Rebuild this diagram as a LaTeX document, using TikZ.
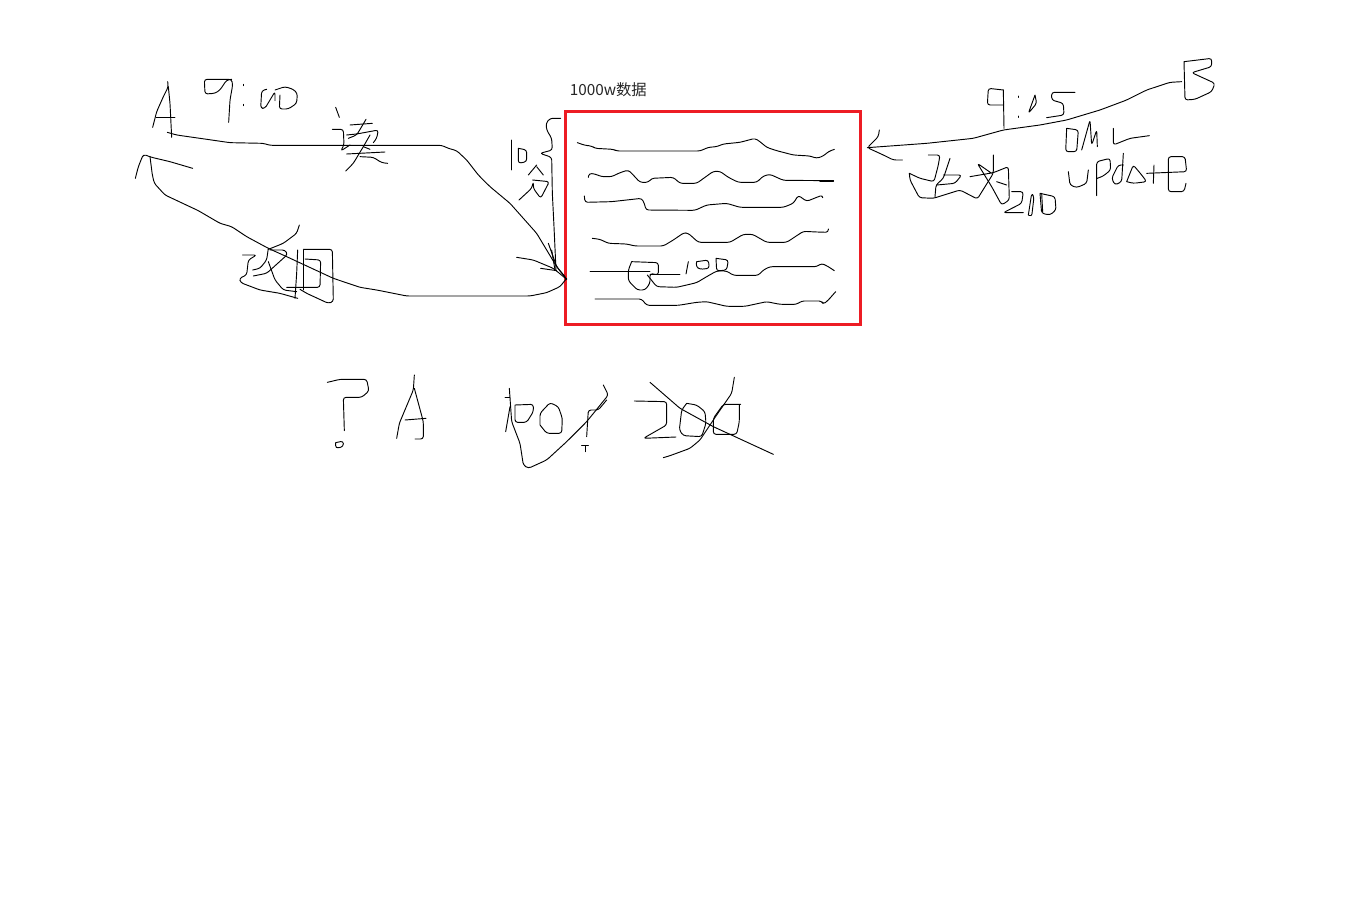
\documentclass[tikz,border=0pt]{standalone}
\usepackage{fontspec}
\setmainfont{Noto Sans CJK SC}
\usepackage{xcolor}
\usetikzlibrary{positioning}
\definecolor{cBox}{RGB}{237,28,36}
\tikzset{
  ink/.style={draw=black, line width=0.7pt, line join=round, line cap=round, rounded corners=2pt},
  store/.style={draw=cBox, line width=2.25pt, minimum width=221.25pt, minimum height=159.75pt, inner sep=0pt},
  lbl/.style={font=\fontsize{11.5}{14}\selectfont, text=black!85, inner sep=0pt},
  areaA/.style={shift={(120,60)}, x=0.25pt, y=-0.25pt},
  areaBox/.style={shift={(560,70)}, x=0.25pt, y=-0.25pt},
  areaB/.style={shift={(860,50)}, x=0.25pt, y=-0.25pt},
  areaTop/.style={shift={(320,365)}, x=0.25pt, y=-0.25pt},
}

\begin{document}
\begin{tikzpicture}[x=0.75pt, y=-0.75pt]
  \useasboundingbox (0,0) rectangle (1368,924);
  \node[store] (table) at (713,218) {};
  \node[lbl, anchor=west] (rows) at (569.5,90) {1000w数据};

  % ---- left: A reads, then writes back ----
  \begin{scope}[areaA]
    \draw[ink] (143,65) -- (145,80) -- (130,110) -- (110,155) -- (98,202);
    \draw[ink] (145,80) -- (150,130) -- (155,232);
    \draw[ink] (108,172) -- (165,172);
    % 9:00
    \draw[ink] (335,58) -- (320,60) -- (300,90) -- (285,100) -- (255,102) -- (253,58) -- (335,58) -- (338,75) -- (330,120) -- (326,187);
    \draw[ink] (370,73) -- (370,77);
    \draw[ink] (370,133) -- (370,137);
    \draw[ink] (440,88) -- (425,92) -- (422,145) -- (435,145) -- (465,95) -- (465,122);
    \draw[ink] (465,90) -- (495,80) -- (520,88) -- (532,100) -- (530,130) -- (505,147) -- (478,147) -- (480,105);
    % read
    \draw[ink] (142,217) -- (170,225) -- (240,235) -- (330,248) -- (430,250) -- (450,256) -- (965,256) -- (985,265) -- (1010,272) -- (1040,300) -- (1075,345) -- (1110,380) -- (1170,430) -- (1210,475) -- (1250,520) -- (1280,570) -- (1310,620) -- (1340,658);
    \draw[ink] (647,142) -- (658,172);
    \draw[ink] (637,208) -- (670,208) -- (672,255) -- (662,273) -- (690,255);
    \draw[ink] (738,178) -- (725,200) -- (710,225) -- (685,235);
    \draw[ink] (690,195) -- (757,190);
    \draw[ink] (680,225) -- (710,222) -- (775,210) -- (770,235) -- (760,248);
    \draw[ink] (750,225) -- (730,260) -- (700,310) -- (677,333);
    \draw[ink] (680,282) -- (795,276);
    \draw[ink] (720,290) -- (760,292) -- (785,308) -- (803,310);
    \draw[ink] (730,260) -- (750,268);
    % write back
    \draw[ink] (46,355) -- (55,320) -- (70,283) -- (95,292) -- (150,305) -- (218,325);
    \draw[ink] (90,290) -- (97,345) -- (103,370) -- (135,405) -- (235,452) -- (300,490) -- (335,500) -- (380,530) -- (445,565) -- (500,590) -- (640,655) -- (720,682) -- (770,690) -- (860,708) -- (1230,708) -- (1280,698) -- (1320,680) -- (1340,655);
    \draw[ink] (538,495) -- (530,520) -- (490,550) -- (445,568);
    \draw[ink] (445,565) -- (440,600) -- (420,625) -- (398,630);
    \draw[ink] (368,585) -- (410,585) -- (385,600) -- (380,645) -- (358,655) -- (362,668) -- (420,690) -- (480,700) -- (533,715);
    \draw[ink] (450,570) -- (495,570) -- (503,583) -- (440,640) -- (400,648);
    \draw[ink] (445,605) -- (465,660) -- (490,690) -- (530,695);
    \draw[ink] (500,682) -- (600,682) -- (602,600) -- (555,597);
    \draw[ink] (533,570) -- (530,640) -- (525,715);
    \draw[ink] (550,570) -- (550,690);
    \draw[ink] (550,568) -- (637,568) -- (640,725) -- (625,730) -- (560,700) -- (540,688);
    % brace and 10 min
    \draw[ink] (1322,175) -- (1290,175) -- (1278,190) -- (1280,210) -- (1295,235) -- (1297,270) -- (1260,280) -- (1295,292) -- (1297,400) -- (1302,500) -- (1308,630);
    \draw[ink] (1175,240) -- (1175,330);
    \draw[ink] (1195,265) -- (1220,270) -- (1220,305) -- (1195,310) -- (1195,265);
    \draw[ink] (1250,315) -- (1225,345);
    \draw[ink] (1250,320) -- (1270,345);
    \draw[ink] (1238,360) -- (1288,365) -- (1262,415) -- (1240,385) -- (1240,365) -- (1235,385) -- (1197,420);
    % tip
    \draw[ink] (1190,592) -- (1240,600) -- (1300,625) -- (1340,658);
    \draw[ink] (1262,625) -- (1310,632);
    \draw[ink] (1285,550) -- (1310,620) -- (1335,650);
    \draw[ink] (1295,570) -- (1305,630);
  \end{scope}

  % ---- rows inside the box ----
  \begin{scope}[areaBox]
    \draw[ink] (52,218) -- (75,226) -- (95,228) -- (105,235) -- (160,238) -- (170,243) -- (420,243) -- (445,232) -- (470,230) -- (490,222) -- (540,217) -- (585,205) -- (600,215) -- (620,232) -- (650,242) -- (700,255) -- (750,258) -- (770,265) -- (790,258) -- (805,245) -- (823,238);
    \draw[ink] (85,322) -- (87,310) -- (105,312) -- (125,320) -- (155,320) -- (180,308) -- (205,300) -- (215,310) -- (240,337) -- (265,337) -- (275,325) -- (340,322) -- (360,340) -- (410,340) -- (460,304) -- (480,304) -- (505,322) -- (535,337) -- (590,337) -- (610,318) -- (630,313) -- (670,331) -- (820,332);
    \draw[ink, line width=1.3pt] (780,332) -- (820,332);
    \draw[ink] (73,378) -- (75,397) -- (155,395) -- (245,385) -- (253,400) -- (258,420) -- (405,421) -- (440,405) -- (500,400) -- (540,412) -- (670,412) -- (700,400) -- (715,376) -- (740,394) -- (788,375) -- (788,382);
    \draw[ink] (97,505) -- (120,508) -- (145,520) -- (200,522) -- (225,528) -- (310,528) -- (340,510) -- (372,488) -- (385,490) -- (415,517) -- (510,517) -- (550,493) -- (578,493) -- (620,517) -- (680,517) -- (730,484) -- (770,486) -- (805,487) -- (805,477);
    \draw[ink] (90,605) -- (270,605);
    \draw[ink] (270,612) -- (360,612);
    \draw[ink] (215,575) -- (205,600) -- (205,632) -- (232,660) -- (255,660) -- (270,640) -- (270,610) -- (295,615) -- (295,578) -- (215,575);
    \draw[ink] (262,615) -- (290,650) -- (350,652) -- (410,638) -- (440,620) -- (470,603) -- (500,603) -- (520,616) -- (595,616) -- (610,600) -- (630,590) -- (770,590) -- (785,580) -- (805,590) -- (823,602);
    \draw[ink] (385,575) -- (378,612);
    \draw[ink] (410,575) -- (445,570) -- (448,595) -- (420,598) -- (408,590) -- (410,575);
    \draw[ink] (468,565) -- (505,570) -- (500,600) -- (470,603) -- (468,565);
    \draw[ink] (105,687) -- (245,687) -- (260,706) -- (355,706) -- (410,697) -- (440,695) -- (500,709) -- (555,709) -- (620,695) -- (660,703) -- (710,703) -- (725,693) -- (785,693) -- (790,703) -- (805,690) -- (827,665);
  \end{scope}

  % ---- right: B updates ----
  \begin{scope}[areaB]
    \draw[ink] (972,35) -- (975,150) -- (1005,148) -- (1055,125) -- (1065,100) -- (995,68) -- (1055,50) -- (1055,25) -- (972,35);
    \draw[ink] (965,95) -- (930,97) -- (860,120) -- (800,150) -- (720,180) -- (620,210) -- (540,225) -- (430,240) -- (340,265) -- (200,280) -- (22,293);
    \draw[ink] (58,240) -- (55,260) -- (22,293) -- (70,315) -- (100,330) -- (127,330);
    % 9:05
    \draw[ink] (430,120) -- (385,115) -- (382,165) -- (430,165);
    \draw[ink] (430,120) -- (432,235);
    \draw[ink] (475,138) -- (475,142);
    \draw[ink] (475,198) -- (475,202);
    \draw[ink] (525,135) -- (505,190) -- (530,160) -- (525,135);
    \draw[ink] (645,127) -- (575,127) -- (575,150) -- (610,160) -- (612,195) -- (560,203);
    % DML
    \draw[ink] (620,235) -- (655,240) -- (650,305) -- (617,305) -- (620,235);
    \draw[ink] (665,300) -- (690,210) -- (695,285) -- (710,240) -- (712,290);
    \draw[ink] (760,235) -- (760,285) -- (810,265) -- (868,257);
    % to 200
    \draw[ink] (148,370) -- (180,385) -- (222,395) -- (235,345) -- (240,315) -- (205,315);
    \draw[ink] (148,370) -- (150,390) -- (178,443) -- (220,445) -- (300,420) -- (352,447) -- (400,370) -- (400,315);
    \draw[ink] (270,325) -- (250,385) -- (228,405) -- (225,440);
    \draw[ink] (230,405) -- (285,400) -- (305,375) -- (250,375);
    \draw[ink] (330,380) -- (400,368) -- (445,350) -- (448,450) -- (425,465) -- (395,410) -- (352,340) -- (395,370);
    \draw[ink] (410,395) -- (440,405);
    \draw[ink] (455,425) -- (490,425) -- (485,460) -- (430,488) -- (490,488);
    \draw[ink] (505,495) -- (515,500) -- (522,440) -- (515,430) -- (505,495);
    \draw[ink] (540,430) -- (585,440) -- (588,480) -- (570,495) -- (545,490) -- (540,430);
    \draw[ink] (545,430) -- (548,485);
    % update
    \draw[ink] (625,365) -- (630,405) -- (650,413) -- (680,400) -- (685,360);
    \draw[ink] (710,437) -- (710,335) -- (750,325) -- (752,360) -- (730,378) -- (712,385);
    \draw[ink] (790,310) -- (785,395) -- (765,405) -- (755,385) -- (775,345) -- (790,345);
    \draw[ink] (800,395) -- (820,345) -- (845,375) -- (860,395) -- (820,400) -- (800,395);
    \draw[ink] (880,400) -- (882,345);
    \draw[ink] (860,370) -- (980,365) -- (975,320) -- (925,320) -- (925,425) -- (972,425) -- (978,400);
  \end{scope}

  % ---- bottom: the query ----
  \begin{scope}[areaTop]
    \draw[ink] (22,52) -- (60,43) -- (140,43) -- (147,78) -- (125,97) -- (70,97) -- (73,197);
    \draw[ink] (47,233) -- (70,228) -- (70,245) -- (47,250) -- (47,233);
    \draw[ink] (230,220) -- (238,175) -- (280,75) -- (283,30);
    \draw[ink] (283,70) -- (310,170) -- (310,222) -- (285,222);
    \draw[ink] (255,165) -- (318,160);
    \draw[ink] (555,97) -- (570,97);
    \draw[ink] (568,70) -- (575,170) -- (600,235) -- (610,300) -- (625,310) -- (680,285) -- (740,230) -- (800,170) -- (865,90) -- (850,60);
    \draw[ink] (570,125) -- (557,200);
    \draw[ink] (585,120) -- (640,118) -- (640,140) -- (620,172) -- (585,172) -- (585,120);
    \draw[ink] (660,180) -- (660,145) -- (690,113) -- (715,125) -- (727,160) -- (725,205) -- (680,205) -- (660,180);
    \draw[ink] (800,215) -- (805,135) -- (835,135) -- (860,105);
    \draw[ink] (785,242) -- (805,242);
    \draw[ink] (795,242) -- (795,260);
    % 200, struck out
    \draw[ink] (943,108) -- (1040,110) -- (1040,180) -- (970,220) -- (1068,216);
    \draw[ink] (1100,115) -- (1085,135) -- (1078,195) -- (1090,212) -- (1145,215) -- (1158,175) -- (1155,140) -- (1130,120) -- (1100,115);
    \draw[ink] (1262,118) -- (1210,118) -- (1180,160) -- (1180,208) -- (1250,208) -- (1258,170) -- (1258,118);
    \draw[ink] (990,52) -- (1080,130) -- (1180,185) -- (1360,268);
    \draw[ink] (1243,37) -- (1235,85) -- (1190,150) -- (1140,225) -- (1110,250) -- (1050,272) -- (1030,278);
  \end{scope}
\end{tikzpicture}
\end{document}
